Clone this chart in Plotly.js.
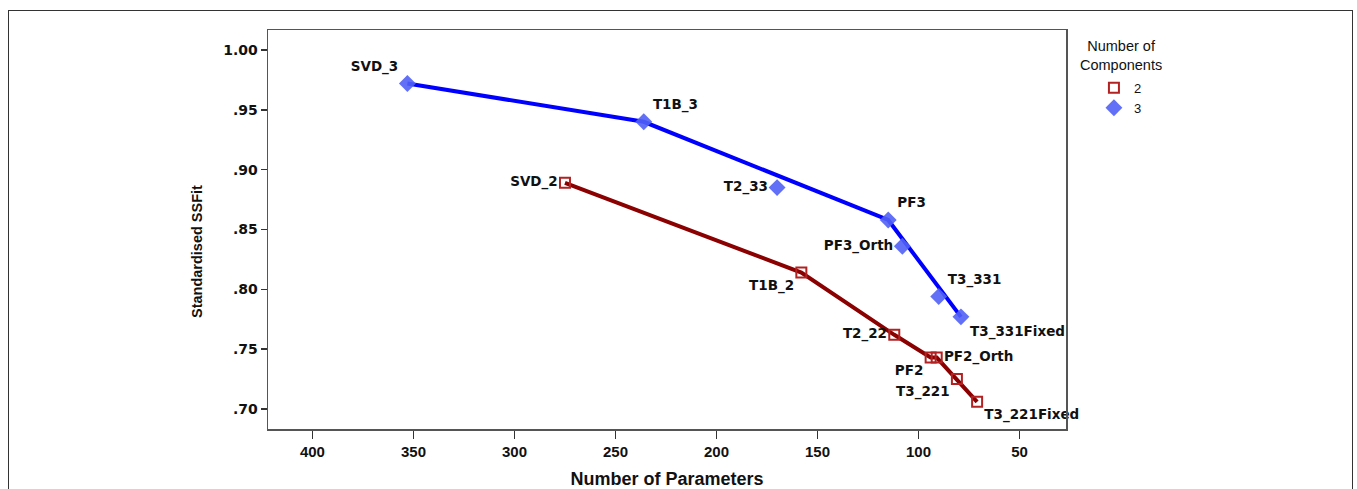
<!DOCTYPE html>
<html>
<head>
<meta charset="utf-8">
<script src="https://cdn.plot.ly/plotly-3.0.1.min.js"></script>
<style>
html,body{margin:0;padding:0;background:#fff;}
#wrap{position:relative;width:1357px;height:489px;overflow:hidden;}
#chart{position:absolute;left:0;top:0;width:1357px;height:489px;}
#frame{position:absolute;left:8px;top:10px;width:1343px;height:520px;border:1.5px solid #333;pointer-events:none;}
</style>
</head>
<body>
<div id="wrap"><div id="chart"></div><div id="frame"></div></div>
<script>
// ---- data ----
const names2 = ["SVD_2", "T1B_2", "T2_22", "PF2", "PF2_Orth", "T3_221", "T3_221Fixed"];
const params2 = [275, 158, 112, 94, 91, 81, 71];
const fit2 = [0.889, 0.814, 0.762, 0.743, 0.743, 0.725, 0.706];
const frontier2 = ["SVD_2", "T1B_2", "T2_22", "PF2", "PF2_Orth", "T3_221", "T3_221Fixed"];

const names3 = ["SVD_3", "T1B_3", "T2_33", "PF3", "PF3_Orth", "T3_331", "T3_331Fixed"];
const params3 = [353, 236, 170, 115, 108, 90, 79];
const fit3 = [0.972, 0.940, 0.885, 0.858, 0.836, 0.794, 0.777];
const frontier3 = ["SVD_3", "T1B_3", "PF3", "T3_331Fixed"];

const yTickVals = [0.70, 0.75, 0.80, 0.85, 0.90, 0.95, 1.00];
const yTickText = [".70", ".75", ".80", ".85", ".90", ".95", "1.00"];
const xTickVals = [400, 350, 300, 250, 200, 150, 100, 50];
const xTickText = ["400", "350", "300", "250", "200", "150", "100", "50"];
const legendTitle = "Number of<br>Components";
const xTitle = "Number of Parameters";
const yTitle = "Standardised SSFit";

// ---- styles ----
const labelPos = {
  "SVD_3": "top left", "T1B_3": "top right", "T2_33": "middle left", "PF3": "top right",
  "PF3_Orth": "middle left", "T3_331": "top right", "T3_331Fixed": "bottom right",
  "SVD_2": "middle left", "T1B_2": "bottom left", "T2_22": "middle left", "PF2": "bottom left",
  "PF2_Orth": "middle right", "T3_221": "bottom left", "T3_221Fixed": "bottom right"
};
const labelFont = {family: "DejaVu Sans, Verdana, sans-serif", size: 13.5, color: "#111", weight: "bold"};

function sub(names, xs, ys, keep) {
  const x = [], y = [];
  names.forEach((n, i) => { if (keep.includes(n)) { x.push(xs[i]); y.push(ys[i]); } });
  return {x, y};
}
const l2 = sub(names2, params2, fit2, frontier2);
const l3 = sub(names3, params3, fit3, frontier3);

const traces = [
  {x: l2.x, y: l2.y, mode: "lines", line: {color: "#8b0000", width: 4}, showlegend: false, hoverinfo: "skip"},
  {x: l3.x, y: l3.y, mode: "lines", line: {color: "#0000ff", width: 4}, showlegend: false, hoverinfo: "skip"},
  {x: params2, y: fit2, text: names2, name: "2", mode: "markers+text", cliponaxis: false,
   textposition: names2.map(n => labelPos[n]), textfont: labelFont,
   marker: {symbol: "square-open", size: 10, color: "#b22222", line: {width: 2, color: "#b22222"}}},
  {x: params3, y: fit3, text: names3, name: "3", mode: "markers+text", cliponaxis: false,
   textposition: names3.map(n => labelPos[n]), textfont: labelFont,
   marker: {symbol: "diamond", size: 13, color: "rgba(80,96,245,0.9)"}}
];

const layout = {
  width: 1357, height: 489,
  margin: {l: 268, r: 291, t: 30, b: 60, pad: 0},
  paper_bgcolor: "#fff", plot_bgcolor: "#fff",
  xaxis: {
    range: [422, 27], tickvals: xTickVals, ticktext: xTickText,
    showgrid: false, zeroline: false, showline: true, mirror: true,
    linecolor: "#555", linewidth: 1.5, ticks: "outside", ticklen: 8, tickcolor: "#333", tickwidth: 1.5,
    tickfont: {family: "Liberation Sans, Arial, sans-serif", size: 15, color: "#111", weight: "bold"},
    title: {text: xTitle, standoff: 14,
      font: {family: "Liberation Sans, Arial, sans-serif", size: 18, color: "#111", weight: "bold"}}
  },
  yaxis: {
    range: [0.6833, 1.0167], tickvals: yTickVals, ticktext: yTickText,
    showgrid: false, zeroline: false, showline: true, mirror: true,
    linecolor: "#555", linewidth: 1.5, ticks: "outside", ticklen: 6, tickcolor: "#333", tickwidth: 1.5,
    tickfont: {family: "DejaVu Sans, Verdana, sans-serif", size: 14, color: "#111", weight: "bold"}
  },
  annotations: [
    {text: yTitle, textangle: -90, xref: "paper", yref: "paper", x: -0.089, y: 0.446,
     xanchor: "center", yanchor: "middle", showarrow: false,
     font: {family: "Liberation Sans, Arial, sans-serif", size: 14.5, color: "#111", weight: "bold"}},
    {text: legendTitle, xref: "paper", yref: "paper", x: 1.069, y: 0.937,
     xanchor: "center", yanchor: "middle", showarrow: false, align: "center",
     font: {family: "Liberation Sans, Arial, sans-serif", size: 14.5, color: "#111"}}
  ],
  legend: {
    x: 1.035, y: 0.8925, xanchor: "left", yanchor: "top",
    font: {family: "Liberation Sans, Arial, sans-serif", size: 13, color: "#111"},
    itemwidth: 30, tracegroupgap: 0, bgcolor: "rgba(0,0,0,0)"
  },
  showlegend: true
};

Plotly.newPlot("chart", traces, layout, {displayModeBar: false, staticPlot: true});
</script>
</body>
</html>
